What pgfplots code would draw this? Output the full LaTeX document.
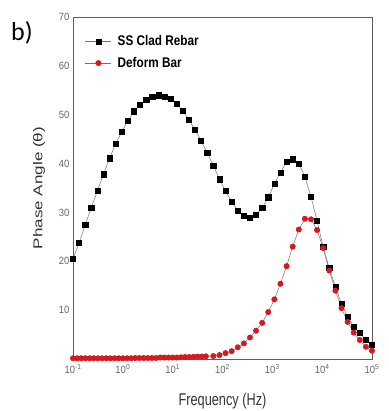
\documentclass[border=0pt]{standalone}
\usepackage{pgfplots}
\pgfplotsset{compat=1.18}
\usepackage{fontspec}
\setmainfont{Liberation Sans}
\newfontfamily\tickfont[FakeStretch=0.9]{Liberation Sans}
\newfontfamily\labfont[FakeStretch=0.75]{Liberation Sans}
\newfontfamily\ylabfont[FakeStretch=1.33]{Liberation Sans}
\newfontfamily\legfont[FakeStretch=0.84]{Liberation Sans}
\newfontfamily\bfont{Carlito}
\definecolor{redm}{RGB}{215,25,30}
\definecolor{axgray}{RGB}{95,95,95}
\begin{document}
\begin{tikzpicture}[x=1pt,y=1pt]
\path[use as bounding box] (0,0) rectangle (388,411);
\node[font=\bfont\fontsize{26}{29}\selectfont, inner sep=0pt] at (22,378) {b)};
\begin{axis}[
  at={(73pt,52pt)}, anchor=south west,
  width=299pt, height=342pt, scale only axis,
  xmin=-1, xmax=5, ymin=0, ymax=70,
  xtick={-1,0,1,2,3,4,5},
  xticklabels={10\textsuperscript{-1},10\textsuperscript{0},10\textsuperscript{1},10\textsuperscript{2},10\textsuperscript{3},10\textsuperscript{4},10\textsuperscript{5}},
  ytick={10,20,30,40,50,60,70},
  yticklabels={10,20,30,40,50,60,70},
  major tick length=0pt,
  axis line style={axgray, line width=0.8pt},
  tick label style={font=\tickfont\fontsize{10.5}{12}\selectfont, text=black!60},
  xticklabel style={yshift=-2pt},
  xlabel={Frequency (Hz)},
  ylabel={Phase Angle (θ)},
  xlabel style={at={(axis description cs:0.5,-0.1228)}, anchor=center, font=\labfont\fontsize{17}{20}\selectfont, text=black!80},
  ylabel style={at={(axis description cs:-0.1137,0.5)}, anchor=center, font=\ylabfont\fontsize{12.8}{15}\selectfont, text=black!80},
  clip=false,
  legend cell align=left,
  legend style={at={(axis description cs:0.04,0.952)}, anchor=north west, draw=none, fill=none,
    font=\legfont\bfseries\fontsize{14}{16}\selectfont, row sep=6pt, inner sep=0pt,
    /tikz/every odd column/.append style={column sep=4pt}},
  legend image code/.code={\draw[mark repeat=2,mark phase=2,#1] plot coordinates {(0pt,0pt) (13pt,0pt) (26pt,0pt)};},
]
\addplot[color=black!55, line width=0.5pt, mark=square*, mark size=2.6pt, mark options={fill=black, draw=black, solid}] coordinates {
(-1.000,20.5) (-0.878,23.8) (-0.755,27.4) (-0.633,31.0) (-0.510,34.4) (-0.388,37.8) (-0.265,41.1) (-0.143,44.1) (-0.020,46.5) (0.102,48.8)
(0.224,50.7) (0.347,52.0) (0.469,53.0) (0.592,53.7) (0.714,54.0) (0.837,53.7) (0.959,53.2) (1.082,52.2) (1.204,50.8) (1.327,48.9)
(1.449,47.0) (1.571,44.6) (1.694,42.2) (1.816,39.6) (1.939,36.8) (2.061,34.4) (2.184,32.2) (2.306,30.4) (2.429,29.3) (2.551,28.9)
(2.673,29.5) (2.796,30.9) (2.918,33.1) (3.041,35.8) (3.163,38.2) (3.286,40.3) (3.408,40.9) (3.531,40.0) (3.653,37.3) (3.776,33.2)
(3.898,28.3) (4.020,22.9) (4.143,18.6) (4.265,14.8) (4.388,11.3) (4.510,8.7) (4.633,6.6) (4.755,5.3) (4.878,3.9) (5.000,2.9)
};
\addlegendentry{SS Clad Rebar}
\addplot[color=black!55, line width=0.5pt, mark=*, mark size=2.7pt, mark options={fill=redm, draw=redm, solid}] coordinates {
(-1.000,0.15) (-0.917,0.15) (-0.833,0.15) (-0.750,0.15) (-0.667,0.15) (-0.583,0.15) (-0.500,0.15) (-0.417,0.15) (-0.333,0.15) (-0.250,0.15)
(-0.167,0.15) (-0.083,0.15) (0.000,0.15) (0.083,0.15) (0.167,0.15) (0.250,0.2) (0.333,0.2) (0.417,0.2) (0.500,0.2) (0.583,0.2)
(0.667,0.2) (0.750,0.3) (0.833,0.3) (0.917,0.3) (1.000,0.3) (1.083,0.3) (1.167,0.35) (1.250,0.4) (1.333,0.4) (1.417,0.45)
(1.500,0.5) (1.583,0.5) (1.667,0.55)
(1.816,0.6) (1.939,0.8) (2.061,1.2) (2.184,1.6) (2.306,2.4) (2.429,3.2) (2.551,4.4) (2.673,5.8) (2.796,7.4) (2.918,9.6)
(3.041,12.2) (3.163,15.4) (3.286,19.0) (3.408,23.0) (3.531,26.5) (3.653,28.7) (3.776,28.6) (3.898,26.4) (4.020,22.7) (4.143,18.1)
(4.265,14.0) (4.388,10.4) (4.510,7.6) (4.633,5.4) (4.755,3.9) (4.878,2.5) (5.000,1.7)
};
\addlegendentry{Deform Bar}
\end{axis}
\end{tikzpicture}
\end{document}
